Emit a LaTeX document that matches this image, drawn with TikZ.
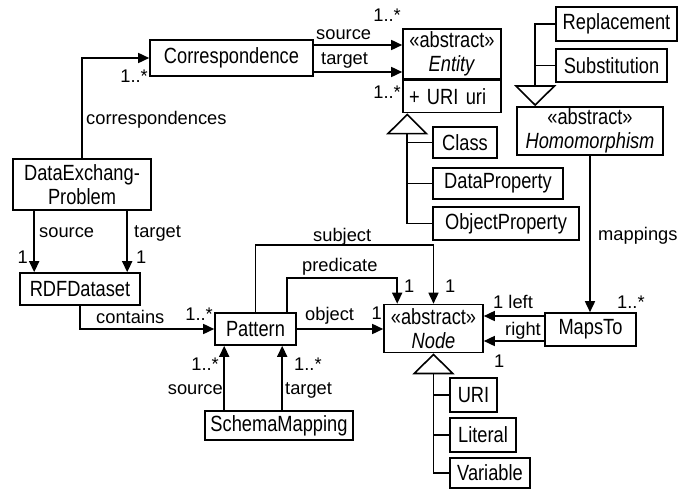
\documentclass[tikz,border=0pt]{standalone}
\usepackage{fontspec}
\setmainfont{Liberation Sans}
\newfontfamily\clsfont{Liberation Sans}[FakeStretch=0.83]
\usetikzlibrary{arrows.meta}
\tikzstyle{umlhead}=[>/.tip={Triangle[length=11pt,width=10pt]}]
\tikzstyle{genhead}=[>/.tip={Triangle[open,length=21pt,width=42pt]}]
\tikzstyle{assoc}=[line width=1.6pt,umlhead,->]
\tikzstyle{gen}=[line width=1.6pt,genhead,->]
\tikzstyle{branch}=[line width=1.6pt]
\tikzstyle{cls}=[draw,line width=1.6pt,inner sep=0pt,align=center,font=\clsfont\fontsize{22}{23.5}\selectfont]
\tikzstyle{lbl}=[inner sep=0pt]

\begin{document}
\begin{tikzpicture}[x=1pt,y=-1pt,font=\fontsize{18.3}{22}\selectfont]
	\useasboundingbox (0,0) rectangle (694,498);
	% classes
	\node[cls,minimum width=163pt,minimum height=36pt] (corr) at (231.5,58) {Correspondence};
	\node[cls,minimum width=98pt,minimum height=50pt] (entity) at (452,54) {«abstract»\\\textit{Entity}};
	\node[cls,minimum width=98pt,minimum height=32pt,anchor=north,text width=86pt,align=left] (entityuri) at (entity.south) {+ URI uri};
	\node[cls,minimum width=121pt,minimum height=34pt] (repl) at (616.5,24) {Replacement};
	\node[cls,minimum width=111pt,minimum height=33pt] (subst) at (611.5,65.5) {Substitution};
	\node[cls,minimum width=146pt,minimum height=48pt] (homo) at (590,131) {«abstract»\\\textit{Homomorphism}};
	\node[cls,minimum width=64pt,minimum height=31pt] (entclass) at (465,142.5) {Class};
	\node[cls,minimum width=130pt,minimum height=31pt] (dprop) at (498,183.5) {DataProperty};
	\node[cls,minimum width=146pt,minimum height=33pt] (oprop) at (506,223.5) {ObjectProperty};
	\node[cls,minimum width=138pt,minimum height=51pt] (dep) at (82,184.5) {DataExchang-\\Problem};
	\node[cls,minimum width=120pt,minimum height=32pt] (rdf) at (80,289) {RDFDataset};
	\node[cls,minimum width=81pt,minimum height=32pt] (pat) at (255.5,329) {Pattern};
	\node[cls,minimum width=99pt,minimum height=48pt] (rdfnode) at (433.5,328.5) {«abstract»\\\textit{Node}};
	\node[cls,minimum width=91pt,minimum height=33pt] (maps) at (590.5,329.5) {MapsTo};
	\node[cls,minimum width=148pt,minimum height=29pt] (sm) at (279,425.5) {SchemaMapping};
	\node[cls,minimum width=47pt,minimum height=34pt] (uri) at (473.5,395) {URI};
	\node[cls,minimum width=66pt,minimum height=34pt] (lit) at (483,435) {Literal};
	\node[cls,minimum width=80pt,minimum height=30pt] (var) at (490,473) {Variable};

	% generalisations
	\coordinate (eapex) at ([xshift=5pt]entityuri.south west);
	\draw[gen] (oprop.west) -| (eapex);
	\draw[branch] (entclass.west) -- (entclass.west -| eapex);
	\draw[branch] (dprop.west) -- (dprop.west -| eapex);
	\coordinate (hapex) at ([xshift=19pt]homo.north west);
	\draw[gen] (repl.west) -| (hapex);
	\draw[branch] (subst.west) -- (subst.west -| hapex);
	\draw[gen] (var.west) -| (rdfnode.south);
	\draw[branch] (uri.west) -- (uri.west -| rdfnode.south);
	\draw[branch] (lit.west) -- (lit.west -| rdfnode.south);

	% associations
	\draw[assoc] (dep.north) |- (corr.west);
	\node[lbl,anchor=base west] (lcorr) at (86,124) {correspondences};
	\node[lbl,anchor=base east] (mcorr) at (148,82) {1..*};

	\coordinate (corrsrc) at ([yshift=13pt]corr.east);
	\coordinate (corrtgt) at ([yshift=-14pt]corr.east);
	\draw[assoc] (corrsrc) -- (corrsrc -| entity.west);
	\draw[assoc] (corrtgt) -- (corrtgt -| entity.west);
	\node[lbl,anchor=base west] (lesrc) at (316,39) {source};
	\node[lbl,anchor=base east] (mesrc) at (401,21.5) {1..*};
	\node[lbl,anchor=base west] (letgt) at (321,64.5) {target};
	\node[lbl,anchor=base east] (metgt) at (401,98) {1..*};

	\coordinate (depsrc) at ([xshift=22pt]dep.south west);
	\coordinate (deptgt) at ([xshift=115pt]dep.south west);
	\draw[assoc] (depsrc) -- (depsrc |- rdf.north);
	\draw[assoc] (deptgt) -- (deptgt |- rdf.north);
	\node[lbl,anchor=base west] (ldsrc) at (39,237) {source};
	\node[lbl,anchor=base west] (ldtgt) at (134,237) {target};
	\node[lbl,anchor=base east] (mdsrc) at (28,263) {1};
	\node[lbl,anchor=base west] (mdtgt) at (136,263) {1};

	\draw[assoc] (rdf.south) |- (pat.west);
	\node[lbl,anchor=base west] (lcont) at (96,323) {contains};
	\node[lbl,anchor=base east] (mcont) at (213,320) {1..*};

	\draw[assoc] (pat.north) -- ++(0,-67) -| (rdfnode.north);
	\node[lbl,anchor=base west] (lsubj) at (313,241) {subject};
	\node[lbl,anchor=base west] (msubj) at (445,292) {1};
	\coordinate (patpred) at ([xshift=-10pt]pat.north east);
	\draw[assoc] (patpred) -- ++(0,-34) -| ([xshift=14pt]rdfnode.north west);
	\node[lbl,anchor=base west] (lpred) at (302,271) {predicate};
	\node[lbl,anchor=base west] (mpred) at (404,292) {1};
	\draw[assoc] (pat.east) -- (pat.east -| rdfnode.west);
	\node[lbl,anchor=base west] (lobj) at (305,320.5) {object};
	\node[lbl,anchor=base east] (mobj) at (382,319) {1};

	\coordinate (smsrc) at ([xshift=20pt]sm.north west);
	\coordinate (smtgt) at ([xshift=78pt]sm.north west);
	\draw[assoc] (smsrc) -- (smsrc |- pat.south);
	\draw[assoc] (smtgt) -- (smtgt |- pat.south);
	\node[lbl,anchor=base east] (lssrc) at (223,394) {source};
	\node[lbl,anchor=base west] (lstgt) at (285,394) {target};
	\node[lbl,anchor=base east] (mssrc) at (219,370) {1..*};
	\node[lbl,anchor=base west] (mstgt) at (294,370) {1..*};

	\draw[assoc] (homo.south) -- (homo.south |- maps.north);
	\node[lbl,anchor=base west] (lmaps) at (598,240) {mappings};
	\node[lbl,anchor=base west] (mmaps) at (617,308) {1..*};

	\coordinate (mapsl) at ([yshift=13.5pt]maps.west);
	\coordinate (mapsr) at ([yshift=-11.5pt]maps.west);
	\draw[assoc] (mapsl) -- (mapsl -| rdfnode.east);
	\draw[assoc] (mapsr) -- (mapsr -| rdfnode.east);
	\node[lbl,anchor=base west] (lleft) at (493,308.5) {1 left};
	\node[lbl,anchor=base west] (lright) at (505,335) {right};
	\node[lbl,anchor=base west] (mright) at (494,367) {1};
\end{tikzpicture}
\end{document}
